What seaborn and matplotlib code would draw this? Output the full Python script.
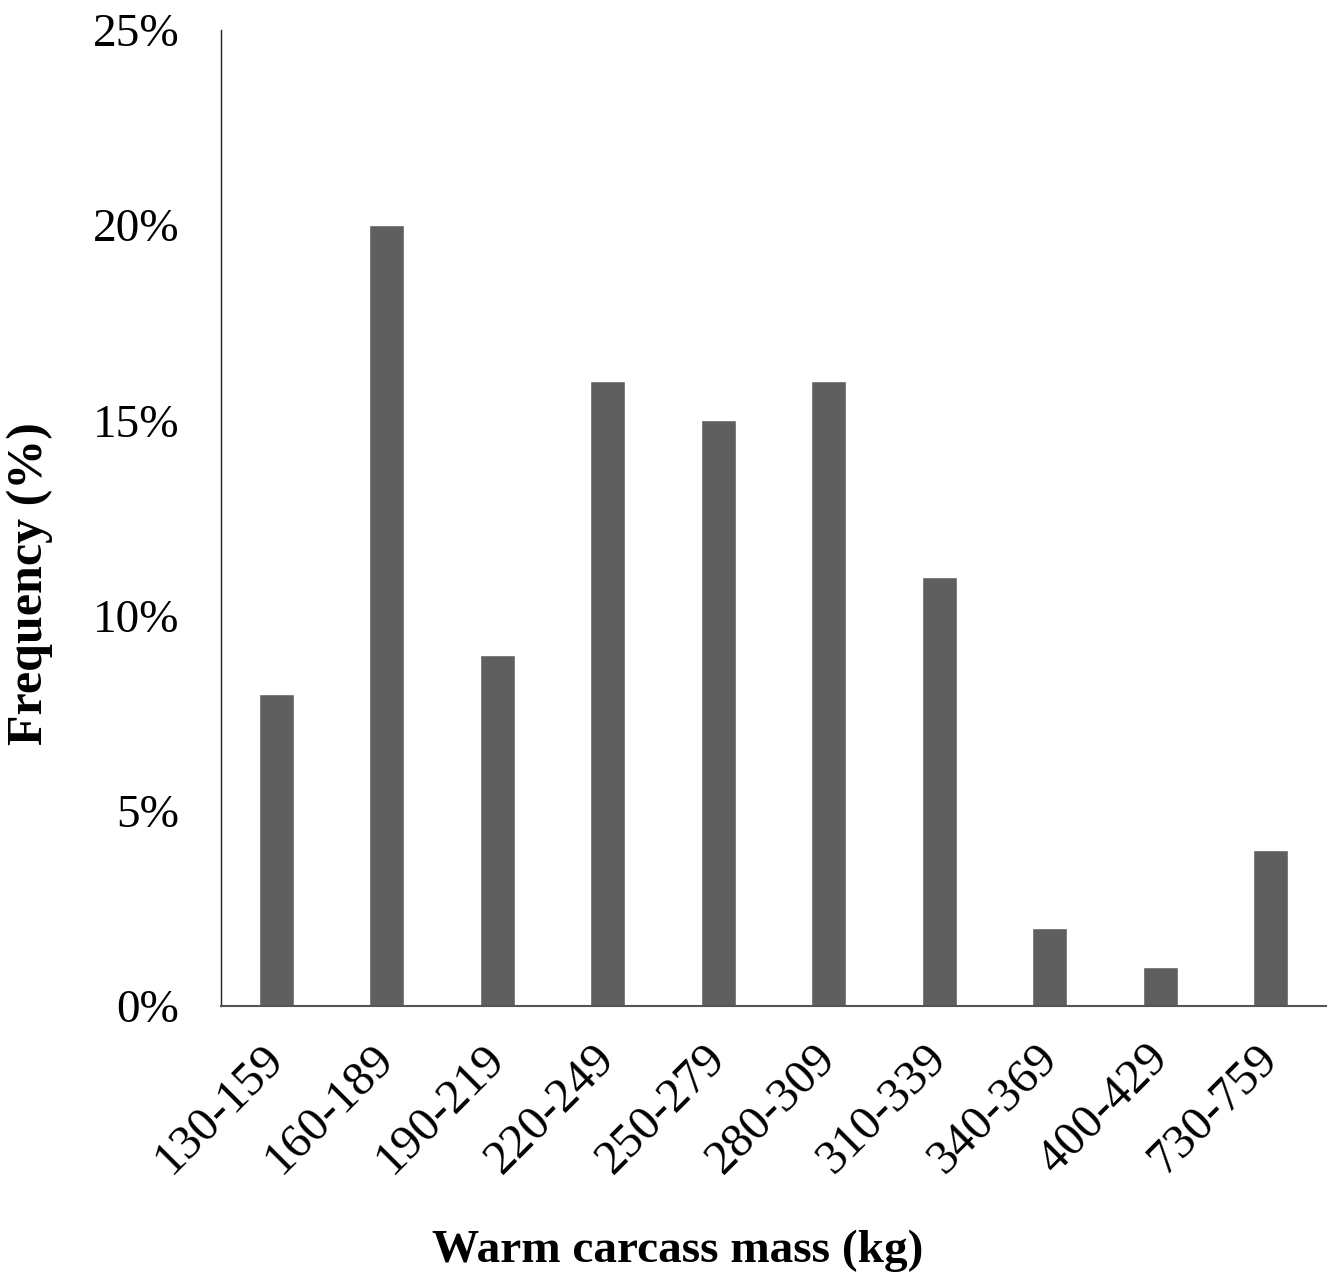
import pandas as pd
import matplotlib
matplotlib.use('Agg')
import matplotlib.pyplot as plt
import matplotlib.transforms as mtransforms
import seaborn as sns
from matplotlib.ticker import FuncFormatter

# values
mass_classes = ['130-159', '160-189', '190-219', '220-249', '250-279',
                '280-309', '310-339', '340-369', '400-429', '730-759']
frequency = [8, 20, 9, 16, 15, 16, 11, 2, 1, 4]

sns.set_style('white')
plt.rcParams['font.family'] = ['Liberation Serif', 'DejaVu Serif']

df = pd.DataFrame({'mass': mass_classes, 'freq': frequency})

fig = plt.figure(figsize=(13.37, 12.8), dpi=100)
ax = fig.add_axes([0.1653, 0.2141, 0.8265, 0.7625])

sns.barplot(data=df, x='mass', y='freq', color='#5f5f5f', saturation=1,
            width=0.32, ax=ax)

ax.set_ylim(0, 25)
ax.set_xlim(-0.5, len(mass_classes) - 0.5)
ax.set_yticks([0, 5, 10, 15, 20, 25])
ax.yaxis.set_major_formatter(FuncFormatter(lambda v, p: f'{v:.0f}%'))

ax.tick_params(axis='y', length=0, pad=30, labelsize=34, labelcolor='black')
ax.tick_params(axis='x', length=0, pad=22, labelsize=35, labelcolor='black')
# rotated category labels, nudged left a bit so their ends sit under the bars
shift = mtransforms.ScaledTranslation(-0.15, 0, fig.dpi_scale_trans)
for lbl in ax.get_xticklabels():
    lbl.set_rotation(45)
    lbl.set_ha('right')
    lbl.set_rotation_mode('anchor')
    lbl.set_transform(lbl.get_transform() + shift)

for s in ['top', 'right']:
    ax.spines[s].set_visible(False)
ax.spines['left'].set_color('#222222')
ax.spines['bottom'].set_color('#555555')
ax.spines['left'].set_linewidth(1.0)
ax.spines['bottom'].set_linewidth(1.5)

ax.set_xlabel('Warm carcass mass (kg)', fontsize=34, fontweight='bold', color='black')
ax.set_ylabel('Frequency (%)', fontsize=36, fontweight='bold', color='black')
ax.xaxis.set_label_coords(0.413, -0.229)
ax.yaxis.set_label_coords(-0.152, 0.433)

fig.savefig('out.png', dpi=100)
